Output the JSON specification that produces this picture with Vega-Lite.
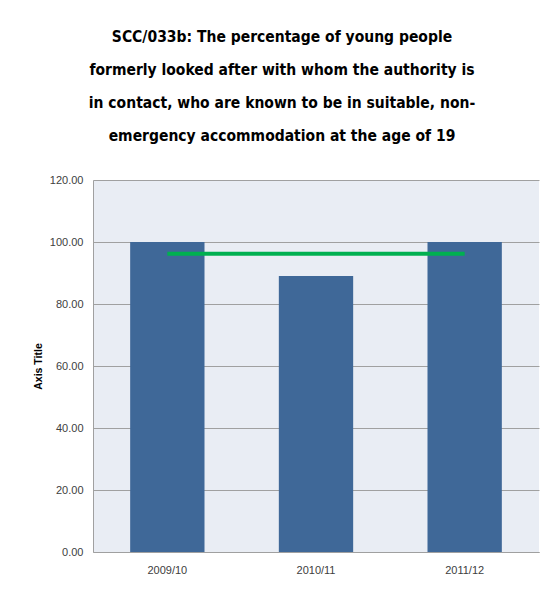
{
  "$schema": "https://vega.github.io/schema/vega-lite/v6.json",
  "width": 446,
  "height": 372,
  "autosize": {"type": "none"},
  "padding": {"left": 93, "top": 180, "right": 12, "bottom": 38},
  "background": "white",
  "title": {
    "text": [
      "SCC/033b: The percentage of young people",
      "formerly looked after with whom the authority is",
      "in contact, who are known to be in suitable, non-",
      "emergency accommodation at the age of 19"
    ],
    "anchor": "middle",
    "dx": -34,
    "font": "DejaVu Sans Condensed, Liberation Sans",
    "fontSize": 15.5,
    "fontWeight": "bold",
    "color": "#000000",
    "lineHeight": 33,
    "offset": 30
  },
  "data": {
    "values": [
      {"year": "2009/10", "value": 100.0, "target": 96.2},
      {"year": "2010/11", "value": 89.0, "target": 96.2},
      {"year": "2011/12", "value": 100.0, "target": 96.2}
    ]
  },
  "encoding": {
    "x": {
      "field": "year",
      "type": "nominal",
      "sort": null,
      "scale": {"paddingInner": 0.5, "paddingOuter": 0.25},
      "axis": {
        "title": null,
        "labelAngle": 0,
        "ticks": false,
        "domainColor": "#A0A0A0",
        "labelPadding": 12,
        "labelFont": "Liberation Sans",
        "labelFontSize": 11,
        "labelColor": "#404040"
      }
    }
  },
  "layer": [
    {
      "mark": {"type": "bar", "color": "#3F6898"},
      "encoding": {
        "y": {
          "field": "value",
          "type": "quantitative",
          "scale": {"domain": [0, 120], "nice": false},
          "axis": {
            "title": "Axis Title",
            "values": [0, 20, 40, 60, 80, 100, 120],
            "format": ".2f",
            "ticks": false,
            "labelPadding": 10,
            "labelFont": "Liberation Sans",
            "labelFontSize": 11,
            "labelColor": "#404040",
            "domainColor": "#A0A0A0",
            "gridColor": "#A0A0A0",
            "gridOpacity": 1,
            "titleFont": "Liberation Sans",
            "titleFontSize": 10.5,
            "titleFontWeight": "bold",
            "titleColor": "#000000",
            "titlePadding": 6
          }
        }
      }
    },
    {
      "mark": {"type": "line", "color": "#00B050", "strokeWidth": 4},
      "encoding": {
        "y": {"field": "target", "type": "quantitative"}
      }
    }
  ],
  "config": {
    "view": {"fill": "#E9EDF4", "stroke": null}
  }
}
